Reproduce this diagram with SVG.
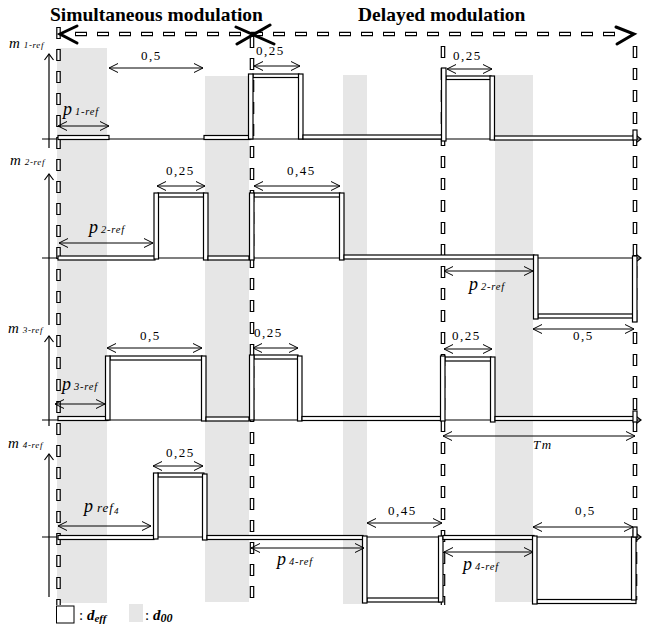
<svg xmlns="http://www.w3.org/2000/svg" width="646" height="627" viewBox="0 0 646 627">
<style>
text{font-family:"Liberation Serif","Times New Roman",serif;fill:#000}
.t{font-weight:bold;font-size:19.5px}
.n{font-size:13px;letter-spacing:1.5px}
.i{font-style:italic}
.m{font-style:italic;font-size:15px}
.s{font-style:italic;font-size:9px;letter-spacing:0.6px}
.ps{font-style:italic;font-size:10.5px;letter-spacing:0.8px}
.pp{font-style:italic;font-size:18px}
.g{fill:#e6e6e6}
.p{fill:#fff;stroke:#000;stroke-width:1.2}
.ax{stroke:#000;stroke-width:1.2;fill:none}
.dim{stroke:#000;stroke-width:1;fill:none;marker-start:url(#ah);marker-end:url(#ah)}
.dk{stroke:#000;stroke-width:4.6;fill:none;stroke-dasharray:12 10}
.dw{stroke:#fff;stroke-width:2.2;fill:none;stroke-dasharray:10 12;stroke-dashoffset:-1}
.big{stroke:#000;stroke-width:3;fill:none;stroke-linecap:round}
</style>
<defs>
<marker id="ah" viewBox="-10 -6 12 12" refX="0" refY="0" markerWidth="12" markerHeight="12" markerUnits="userSpaceOnUse" orient="auto-start-reverse">
<path d="M-9,-4.5 L0,0 L-9,4.5" fill="none" stroke="#000" stroke-width="1"/>
</marker>
<marker id="aa" viewBox="-10 -6 12 12" refX="0" refY="0" markerWidth="12" markerHeight="12" markerUnits="userSpaceOnUse" orient="auto">
<path d="M-6,-4.5 L0,0 L-6,4.5" fill="none" stroke="#000" stroke-width="1.2"/>
</marker>
</defs>

<g id="bands">
<rect class="g" x="57" y="48" width="50" height="555"/>
<rect class="g" x="205" y="76" width="44" height="526"/>
<rect class="g" x="343" y="75" width="24" height="529"/>
<rect class="g" x="495" y="75" width="38" height="527"/>
</g>

<g id="titles">
<text class="t" x="50" y="21">Simultaneous modulation</text>
<text class="t" x="358" y="21">Delayed modulation</text>
</g>

<g id="axes">
<line class="ax" x1="42" y1="139" x2="641" y2="139" marker-end="url(#aa)"/>
<line class="ax" x1="49" y1="148" x2="49" y2="54" marker-end="url(#aa)"/>
<line class="ax" x1="42" y1="258" x2="641" y2="258" marker-end="url(#aa)"/>
<line class="ax" x1="49" y1="325" x2="49" y2="174" marker-end="url(#aa)"/>
<line class="ax" x1="42" y1="420" x2="641" y2="420" marker-end="url(#aa)"/>
<line class="ax" x1="49" y1="426" x2="49" y2="336" marker-end="url(#aa)"/>
<line class="ax" x1="42" y1="537" x2="641" y2="537" marker-end="url(#aa)"/>
<line class="ax" x1="49" y1="597" x2="49" y2="454" marker-end="url(#aa)"/>
<text x="9" y="48"><tspan class="m">m</tspan><tspan class="s" dx="4">1-ref</tspan></text>
<text x="10" y="165"><tspan class="m">m</tspan><tspan class="s" dx="4">2-ref</tspan></text>
<text x="8" y="333"><tspan class="m">m</tspan><tspan class="s" dx="4">3-ref</tspan></text>
<text x="8" y="448"><tspan class="m">m</tspan><tspan class="s" dx="4">4-ref</tspan></text>
</g>

<g id="period-markers">
<line class="dk" x1="75" y1="34" x2="615" y2="34"/>
<line class="dw" x1="75" y1="34" x2="615" y2="34"/>
<line class="dk" x1="58.5" y1="27" x2="58.5" y2="605"/>
<line class="dw" x1="58.5" y1="27" x2="58.5" y2="605"/>
<line class="dk" x1="252" y1="36" x2="252" y2="600"/>
<line class="dw" x1="252" y1="36" x2="252" y2="600"/>
<line class="dk" x1="443" y1="46" x2="443" y2="605"/>
<line class="dw" x1="443" y1="46" x2="443" y2="605"/>
<line class="dk" x1="635" y1="46" x2="635" y2="600"/>
<line class="dw" x1="635" y1="46" x2="635" y2="600"/>
<path class="big" d="M77,26 L60,34 L77,43"/>
<path class="big" d="M236,27 L274,44 M237,44 L270,25"/>
<path class="big" d="M616,27 L634,34 L617,44"/>
</g>

<g id="signal-1">
<rect class="p" x="58" y="135.5" width="51" height="4"/>
<rect class="p" x="204" y="135.5" width="46" height="4"/>
<rect class="p" x="253" y="74" width="46" height="3.5"/>
<rect class="p" x="248.5" y="74" width="4.5" height="65"/>
<rect class="p" x="298.5" y="74" width="4.5" height="65"/>
<rect class="p" x="303" y="135" width="139" height="4"/>
<rect class="p" x="446" y="76" width="45" height="3.5"/>
<rect class="p" x="441.5" y="68" width="4.5" height="73"/>
<rect class="p" x="490" y="76" width="4.5" height="64"/>
<rect class="p" x="494.5" y="136" width="139" height="4"/>
<rect class="p" x="633" y="130" width="4" height="10"/>
</g>

<g id="signal-2">
<rect class="p" x="58" y="256" width="97" height="4"/>
<rect class="p" x="158" y="193" width="46" height="4"/>
<rect class="p" x="154" y="193" width="4.5" height="66"/>
<rect class="p" x="203.5" y="193" width="4.5" height="67"/>
<rect class="p" x="208" y="256" width="41" height="4"/>
<rect class="p" x="254" y="193" width="86" height="4"/>
<rect class="p" x="249.5" y="193" width="4.5" height="67"/>
<rect class="p" x="339.5" y="193" width="4.5" height="67"/>
<rect class="p" x="344" y="255" width="190" height="4"/>
<rect class="p" x="538" y="314" width="96" height="4"/>
<rect class="p" x="533.5" y="255" width="4.5" height="64"/>
<rect class="p" x="632.5" y="256" width="4.5" height="66"/>
</g>

<g id="signal-3">
<rect class="p" x="58" y="416.5" width="50" height="4"/>
<rect class="p" x="110" y="356" width="92" height="4"/>
<rect class="p" x="105.5" y="356" width="4.5" height="64"/>
<rect class="p" x="201.5" y="356" width="4.5" height="65"/>
<rect class="p" x="206" y="417" width="43" height="4"/>
<rect class="p" x="254" y="355" width="44" height="4"/>
<rect class="p" x="249.5" y="355" width="4.5" height="65"/>
<rect class="p" x="297.5" y="356" width="4.5" height="65"/>
<rect class="p" x="302" y="416.5" width="139" height="4"/>
<rect class="p" x="445" y="357" width="46" height="4"/>
<rect class="p" x="440.5" y="356" width="4.5" height="65"/>
<rect class="p" x="490.5" y="357" width="4.5" height="65"/>
<rect class="p" x="495" y="416.5" width="139" height="4"/>
<rect class="p" x="633" y="411" width="4" height="11"/>
</g>

<g id="signal-4">
<rect class="p" x="58" y="535.5" width="96" height="4"/>
<rect class="p" x="158" y="473" width="46" height="4"/>
<rect class="p" x="153.5" y="473" width="4.5" height="66"/>
<rect class="p" x="202.5" y="474" width="4.5" height="66"/>
<rect class="p" x="207" y="535.5" width="156" height="4"/>
<rect class="p" x="367" y="598" width="73" height="4"/>
<rect class="p" x="362.5" y="536" width="4.5" height="67"/>
<rect class="p" x="438.5" y="536" width="4.5" height="66"/>
<rect class="p" x="443" y="535.5" width="91" height="4"/>
<rect class="p" x="537" y="599.5" width="99" height="4"/>
<rect class="p" x="532.5" y="536" width="4.5" height="68"/>
<rect class="p" x="631.5" y="537" width="4.5" height="63"/>
<rect class="p" x="633" y="527" width="4" height="10"/>
</g>

<g id="connectors">
<line class="dim" x1="109" y1="68" x2="203" y2="68"/>
<line class="dim" x1="254" y1="66" x2="300" y2="66"/>
<line class="dim" x1="447" y1="69" x2="492" y2="69"/>
<line class="dim" x1="58" y1="126" x2="109" y2="126"/>
<line class="dim" x1="157" y1="186" x2="205" y2="186"/>
<line class="dim" x1="254" y1="186" x2="340" y2="186"/>
<line class="dim" x1="59" y1="243" x2="153" y2="243"/>
<line class="dim" x1="444" y1="271" x2="533" y2="271"/>
<line class="dim" x1="533" y1="329" x2="634" y2="329"/>
<line class="dim" x1="107" y1="348" x2="202" y2="348"/>
<line class="dim" x1="253" y1="348" x2="298" y2="348"/>
<line class="dim" x1="444" y1="349" x2="492" y2="349"/>
<line class="dim" x1="55" y1="404" x2="105" y2="404"/>
<line class="dim" x1="443" y1="436" x2="635" y2="436"/>
<line class="dim" x1="153" y1="466" x2="203" y2="466"/>
<line class="dim" x1="58" y1="526" x2="151" y2="526"/>
<line class="dim" x1="251" y1="548" x2="364" y2="548"/>
<line class="dim" x1="367" y1="523" x2="442" y2="523"/>
<line class="dim" x1="444" y1="552" x2="533" y2="552"/>
<line class="dim" x1="533" y1="527" x2="633" y2="527"/>
</g>

<g id="labels">
<text class="n" x="141" y="60">0,5</text>
<text class="n" x="256" y="55">0,25</text>
<text class="n" x="453" y="60">0,25</text>
<text x="63" y="115"><tspan class="pp">p</tspan><tspan class="ps" dx="3">1-ref</tspan></text>
<text class="n" x="166" y="175">0,25</text>
<text class="n" x="287" y="175">0,45</text>
<text x="89" y="233"><tspan class="pp">p</tspan><tspan class="ps" dx="3">2-ref</tspan></text>
<text x="469" y="290"><tspan class="pp">p</tspan><tspan class="ps" dx="3">2-ref</tspan></text>
<text class="n" x="573" y="340">0,5</text>
<text class="n" x="140" y="340">0,5</text>
<text class="n" x="254" y="337">0,25</text>
<text class="n" x="452" y="340">0,25</text>
<text x="62" y="390"><tspan class="pp">p</tspan><tspan class="ps" dx="3">3-ref</tspan></text>
<text class="n i" x="533" y="449">Tm</text>
<text class="n" x="166" y="457">0,25</text>
<text x="84" y="512"><tspan class="pp">p</tspan><tspan class="i" font-size="13" letter-spacing="1" dx="4">ref</tspan><tspan class="i" font-size="9" dy="2">4</tspan></text>
<text x="277" y="565"><tspan class="pp">p</tspan><tspan class="ps" dx="3">4-ref</tspan></text>
<text class="n" x="388" y="515">0,45</text>
<text x="463" y="570"><tspan class="pp">p</tspan><tspan class="ps" dx="3">4-ref</tspan></text>
<text class="n" x="575" y="515">0,5</text>
</g>

<g id="legend">
<rect x="56.5" y="606" width="17.5" height="17" fill="#fff" stroke="#000" stroke-width="1"/>
<text x="79" y="620" font-size="15"><tspan>: </tspan><tspan font-weight="bold" font-style="italic">d</tspan><tspan font-weight="bold" font-style="italic" font-size="11" dy="2">eff</tspan></text>
<rect class="g" x="129" y="604" width="14" height="18"/>
<text x="145" y="620" font-size="15"><tspan>: </tspan><tspan font-weight="bold" font-style="italic">d</tspan><tspan font-weight="bold" font-style="italic" font-size="12" dy="2">00</tspan></text>
</g>
</svg>
